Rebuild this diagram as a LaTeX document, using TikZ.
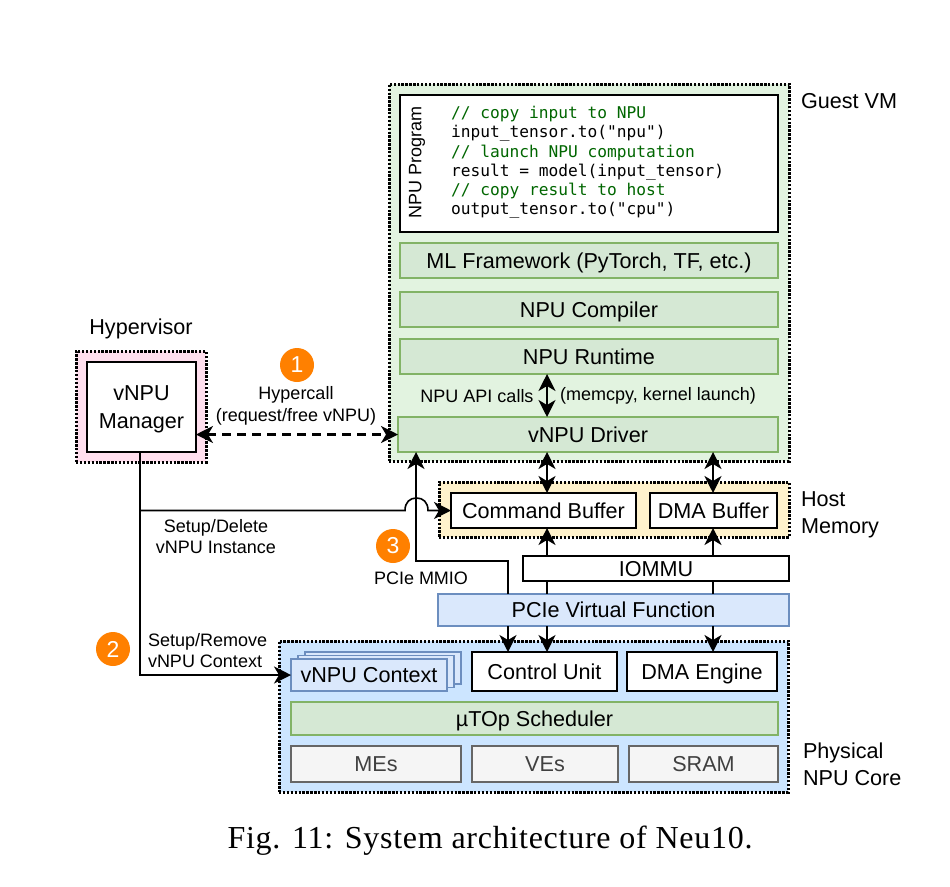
\documentclass[tikz,border=0pt]{standalone}
\usepackage{fontspec}
\setmainfont{Liberation Sans}
\setmonofont{DejaVu Sans Mono}
\newfontfamily\capfont[LetterSpace=2.3]{Liberation Serif}
\usepackage{xcolor}
\usetikzlibrary{arrows.meta,positioning}

\definecolor{guestbg}{HTML}{E2F3E0}
\definecolor{hyperbg}{HTML}{FFDFEE}
\definecolor{hostbg}{HTML}{FFF2CC}
\definecolor{corebg}{HTML}{CCE5FF}
\definecolor{layerfill}{HTML}{D5E8D4}
\definecolor{layerline}{HTML}{82B366}
\definecolor{pciefill}{HTML}{DAE8FC}
\definecolor{pcieline}{HTML}{6C8EBF}
\definecolor{unitfill}{HTML}{F5F5F5}
\definecolor{unitline}{HTML}{666666}
\definecolor{badgecol}{HTML}{FF8000}
\definecolor{codegreen}{HTML}{006600}

\newcommand{\fbig}{\fontsize{21.6}{27.5}\selectfont}
\newcommand{\fsmall}{\fontsize{18}{21.5}\selectfont}
\newcommand{\cmt}[1]{\textcolor{codegreen}{#1}}

\begin{document}
\begin{tikzpicture}[
    x=1pt, y=-1pt,
    every node/.style={outer sep=0pt, inner sep=0pt},
    oneline/.style={text height=15.5pt, text depth=0pt},
    region/.style={rectangle, draw=black, line width=3pt, dash pattern=on 2.4pt off 1.5pt, anchor=north west},
    layer/.style={rectangle, draw=layerline, line width=1.5pt, fill=layerfill, font=\fbig, oneline, anchor=north west},
    whitebox/.style={rectangle, draw=black, line width=1.6pt, fill=white, font=\fbig, align=center, anchor=north west},
    bluebox/.style={rectangle, draw=pcieline, line width=1.5pt, fill=pciefill, font=\fbig, oneline, anchor=north west},
    greybox/.style={rectangle, draw=unitline, line width=1.5pt, fill=unitfill, text=black!75, font=\fbig, oneline, anchor=north west},
    badge/.style={circle, fill=badgecol, text=white, minimum size=34pt, font=\fontsize{23}{25}\selectfont},
    note/.style={font=\fsmall, align=center},
    title/.style={font=\fbig, align=left, text depth=0pt, anchor=west},
    arrow/.style={-{Stealth[length=17pt, width=17pt, inset=5pt]}, line width=1.6pt},
    dblarrow/.style={{Stealth[length=17pt, width=17pt, inset=5pt]}-{Stealth[length=17pt, width=17pt, inset=5pt]}, line width=1.6pt},
    plain/.style={line width=1.6pt},
]
\useasboundingbox (0,0) rectangle (950,886);

% Guest VM
\node[region, fill=guestbg, minimum width=400pt, minimum height=377pt] (guest) at (389,84) {};
\node[whitebox, minimum width=378pt, minimum height=137pt] (prog) at (400,95) {};
\node[font=\fontsize{18}{20}\selectfont, rotate=90] (proglabel) at (417,162) {NPU Program};
\node[font=\fontsize{16.2}{19.3}\selectfont\ttfamily, align=left, anchor=west] (code) at (451,162.5) {%
\cmt{// copy input to NPU}\\
input\_tensor.to("npu")\\
\cmt{// launch NPU computation}\\
result = model(input\_tensor)\\
\cmt{// copy result to host}\\
output\_tensor.to("cpu")};
\node[layer, minimum width=378pt, minimum height=35pt] (framework) at (400,243) {ML Framework (PyTorch, TF, etc.)};
\node[layer, minimum width=378pt, minimum height=35pt, below=14pt of framework] (compiler) {NPU Compiler};
\node[layer, minimum width=378pt, minimum height=35pt, below=12pt of compiler] (runtime) {NPU Runtime};
\node[layer, minimum width=380pt, minimum height=35pt] (driver) at (398,417) {vNPU Driver};
\node[note] (apicalls) at (477,396) {NPU API calls};
\node[note] (apinote) at (658,396) {(memcpy, kernel launch)};
\node[title] (guestlabel) at (801,101) {Guest VM};

% Hypervisor
\node[region, fill=hyperbg, minimum width=130pt, minimum height=111pt] (hyper) at (76,351) {};
\node[whitebox, text depth=0pt, minimum width=109pt, minimum height=90pt] (manager) at (87,362) {vNPU\\Manager};
\node[font=\fbig, above=12pt of hyper] (hyperlabel) {Hypervisor};

% Host memory
\node[region, fill=hostbg, minimum width=350pt, minimum height=55pt] (host) at (439,482) {};
\node[whitebox, oneline, minimum width=185pt, minimum height=35pt] (cmdbuf) at (451,493) {Command Buffer};
\node[whitebox, oneline, minimum width=127pt, minimum height=35pt, right=14pt of cmdbuf] (dmabuf) {DMA Buffer};
\node[title] (hostlabel) at (801,512.5) {Host\\Memory};

% IOMMU and PCIe
\node[whitebox, oneline, minimum width=266pt, minimum height=25pt] (iommu) at (523,556) {IOMMU};
\node[bluebox, minimum width=351pt, minimum height=32pt] (pcie) at (438,594) {PCIe Virtual Function};

% Physical NPU core
\node[region, fill=corebg, minimum width=509pt, minimum height=151pt] (core) at (279,641) {};
\node[bluebox, minimum width=156pt, minimum height=32pt] (ctxc) at (305,652) {};
\node[bluebox, minimum width=156pt, minimum height=32pt] (ctxb) at (298,655.5) {};
\node[bluebox, minimum width=156pt, minimum height=32pt] (ctxa) at (291,659) {vNPU Context};
\node[whitebox, oneline, minimum width=145pt, minimum height=39pt] (control) at (472,652) {Control Unit};
\node[whitebox, oneline, minimum width=150pt, minimum height=39pt, right=10pt of control] (dmaeng) {DMA Engine};
\node[layer, minimum width=487pt, minimum height=33pt] (sched) at (291,702) {µTOp Scheduler};
\node[greybox, minimum width=170pt, minimum height=36pt] (mes) at (291,746) {MEs};
\node[greybox, minimum width=146pt, minimum height=36pt, right=11pt of mes] (ves) {VEs};
\node[greybox, minimum width=149pt, minimum height=36pt, right=11pt of ves] (sram) {SRAM};
\node[title] (corelabel) at (803,764) {Physical\\NPU Core};

% Steps
\node[badge] (one) at (297,365) {1};
\node[badge] (two) at (113,649) {2};
\node[badge] (three) at (393,546) {3};
\node[note] (hypercall) at (296,406) {Hypercall\\(request/free vNPU)};
\node[note] (instance) at (216,536.5) {Setup/Delete\\vNPU Instance};
\node[note] (mmio) at (421,578) {PCIe MMIO};
\node[note, align=left, anchor=west] (context) at (148,650.5) {Setup/Remove\\vNPU Context};

% Columns for the vertical links
\coordinate (cola) at (547,0);
\coordinate (colb) at (713,0);
\coordinate (colc) at (508,0);
\coordinate (cold) at (416,0);
\coordinate (colm) at (140,0);
\coordinate (branch) at (colm |- cmdbuf.west);
\coordinate (jumpa) at (405,510.5);
\coordinate (jumpb) at (428,510.5);
\coordinate (bend) at (cold |- 0,561);

% Connections
\draw[dblarrow, dashed, dash pattern=on 9pt off 6pt, line width=2.4pt] (manager.east |- driver.west) -- (driver.west);
\draw[dblarrow] (runtime.south -| cola) -- (driver.north -| cola);
\draw[dblarrow] (driver.south -| cola) -- (cmdbuf.north -| cola);
\draw[dblarrow] (driver.south -| colb) -- (dmabuf.north -| colb);
\draw[arrow] (iommu.north -| cola) -- (cmdbuf.south -| cola);
\draw[arrow] (iommu.north -| colb) -- (dmabuf.south -| colb);
\draw[plain] (iommu.south -| cola) -- (pcie.north -| cola);
\draw[plain] (iommu.south -| colb) -- (pcie.north -| colb);
\draw[arrow] (pcie.south -| colc) -- (control.north -| colc);
\draw[arrow] (pcie.south -| cola) -- (control.north -| cola);
\draw[arrow] (pcie.south -| colb) -- (dmaeng.north -| colb);
\draw[arrow] (pcie.north -| colc) -- (colc |- bend) -- (bend) -- (driver.south -| cold);
\draw[plain] (manager.south -| colm) -- (branch);
\draw[arrow] (branch) -- (jumpa) .. controls (405,502) and (410,498) .. (416.5,498)
    .. controls (423,498) and (428,502) .. (jumpb) -- (cmdbuf.west);
\draw[arrow] (branch) -- (colm |- ctxa.west) -- (ctxa.west);

% Caption
\node[font=\fontsize{32}{36}\selectfont\capfont] (caption) at (490,841) {Fig. 11: System architecture of Neu10.};
\end{tikzpicture}
\end{document}
